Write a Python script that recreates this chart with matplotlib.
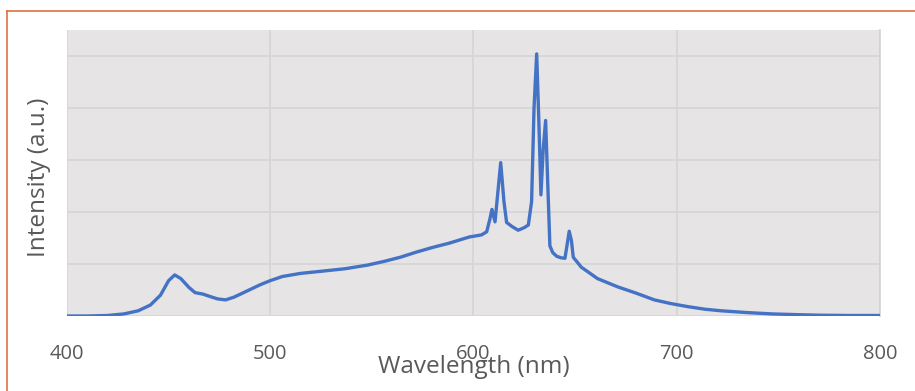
import matplotlib
matplotlib.use("Agg")
import matplotlib.pyplot as plt
from matplotlib.lines import Line2D

# spectrum
wavelength = [400, 410, 420, 428, 435, 441, 446, 450, 453, 456, 460, 463, 467, 470,
              474, 478, 482, 488, 495, 500, 506, 515, 525, 537, 548, 556, 564, 572,
              580, 588, 593, 598, 604, 606.5, 608, 609.1, 610.6, 611.8, 613.4, 615,
              616.3, 619, 622, 625, 627, 628.6, 629.8, 631.1, 632.2, 633.2, 634.3,
              635.5, 636.5, 637.6, 639, 640.9, 643, 645, 646, 647.1, 648.2, 649.1,
              651.6, 653, 656.3, 661, 666, 671, 680, 689, 697, 705.5, 714, 722, 735,
              747, 760, 771, 785, 800]
intensity = [0.0, 0.0, 0.01, 0.04, 0.1, 0.21, 0.4, 0.68, 0.79, 0.72, 0.55, 0.45, 0.42, 0.38,
             0.33, 0.31, 0.36, 0.47, 0.60, 0.68, 0.76, 0.82, 0.86, 0.91, 0.98, 1.05, 1.13, 1.23,
             1.32, 1.40, 1.46, 1.52, 1.56, 1.62, 1.85, 2.05, 1.81, 2.3, 2.95, 2.2,
             1.80, 1.72, 1.65, 1.70, 1.75, 2.2, 4.0, 5.04, 3.7, 2.33, 3.2,
             3.76, 2.6, 1.35, 1.22, 1.15, 1.12, 1.11, 1.35, 1.63, 1.45, 1.13,
             1.01, 0.94, 0.85, 0.72, 0.64, 0.56, 0.44, 0.31, 0.24, 0.18, 0.13, 0.10, 0.065,
             0.04, 0.025, 0.015, 0.01, 0.01]
x_ticks = [400, 500, 600, 700, 800]
y_ticks = [0, 1, 2, 3, 4, 5]

plt.rcParams['font.family'] = ['Open Sans', 'DejaVu Sans']
text_col = '#595959'

fig = plt.figure(figsize=(9.15, 3.91), dpi=100)
ax = fig.add_axes([0.0732, 0.1918, 0.8885, 0.7315])
ax.set_facecolor('#e6e4e5')

ax.plot(wavelength, intensity, color='#4472c4', linewidth=2.4, solid_joinstyle='round', zorder=3)

ax.set_xlim(400, 800)
ax.set_ylim(0, 5.5)
ax.set_xticks(x_ticks)
ax.set_yticks(y_ticks)
ax.set_yticklabels([])
ax.grid(True, color='#d6d5d6', linewidth=1.2)
ax.set_axisbelow(True)
ax.tick_params(length=0, labelsize=14.5, labelcolor=text_col)
ax.tick_params(axis='x', pad=20)
for s in ['top', 'left', 'bottom']:
    ax.spines[s].set_visible(False)
ax.spines['right'].set_color('#d3d2d3')
ax.spines['right'].set_linewidth(1.2)

ax.set_xlabel('Wavelength (nm)', fontsize=17.5, color=text_col)
ax.xaxis.set_label_coords(0.5, -0.138)
ax.set_ylabel('Intensity (a.u.)', fontsize=17.5, color=text_col)
ax.yaxis.set_label_coords(-0.02, 0.484)

# orange frame on top and left
fig.add_artist(Line2D([0.0077, 1.0], [0.9719, 0.9719], color='#e07040', linewidth=1.2))
fig.add_artist(Line2D([0.0077, 0.0077], [0.0, 0.9719], color='#e07040', linewidth=1.2))

fig.savefig('out.png', dpi=100)
